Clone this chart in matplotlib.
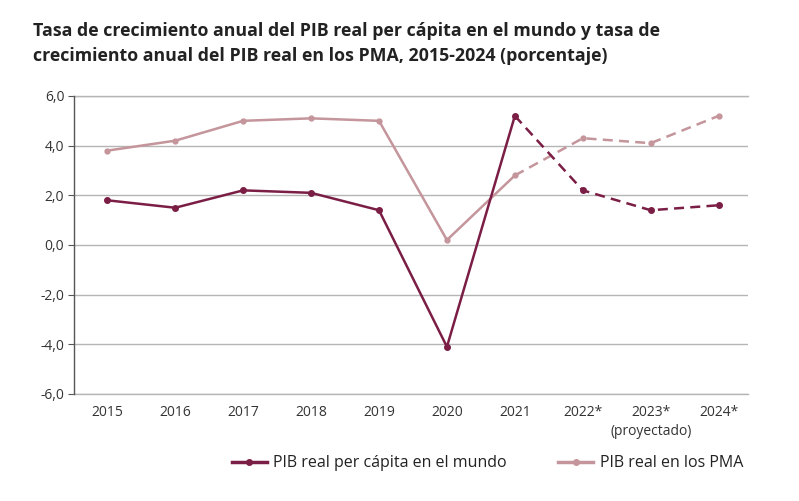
import matplotlib
matplotlib.use("Agg")
import matplotlib.pyplot as plt
from matplotlib.lines import Line2D

plt.rcParams['font.family'] = ['Open Sans', 'DejaVu Sans']

years = ["2015", "2016", "2017", "2018", "2019", "2020", "2021", "2022*", "2023*", "2024*"]
world = [1.8, 1.5, 2.2, 2.1, 1.4, -4.1, 5.2, 2.2, 1.4, 1.6]
pma = [3.8, 4.2, 5.0, 5.1, 5.0, 0.2, 2.8, 4.3, 4.1, 5.2]
yticks = [-6, -4, -2, 0, 2, 4, 6]

c_world = "#7b1e45"
c_pma = "#c4959b"
n_actual = 7  # 2015-2021 observed

fig = plt.figure(figsize=(7.99, 5.01), dpi=100)
ax = fig.add_axes([0.0926, 0.2136, 0.8434, 0.5948])

x = list(range(len(years)))
# PMA
ax.plot(x[:n_actual], pma[:n_actual], color=c_pma, lw=1.8, marker='o', ms=3.5, zorder=3)
ax.plot(x[n_actual-1:], pma[n_actual-1:], color=c_pma, lw=1.8, ls=(0, (4, 2.5)), marker='o', ms=3.5,
        markevery=list(range(1, len(years) - n_actual + 1)), zorder=3)
# World
ax.plot(x[:n_actual], world[:n_actual], color=c_world, lw=1.8, marker='o', ms=4, zorder=4)
ax.plot(x[n_actual-1:], world[n_actual-1:], color=c_world, lw=1.8, ls=(0, (4, 2.5)), marker='o', ms=4,
        markevery=list(range(1, len(years) - n_actual + 1)), zorder=4)

ax.set_xlim(-0.49, 9.43)
ax.set_ylim(-6, 6)
ax.set_yticks(yticks)
ax.set_yticklabels([f"{v:.1f}".replace(".", ",") for v in yticks])
ax.set_xticks(x)
ax.set_xticklabels(years)
ax.grid(axis='y', color='#b5b5b5', lw=1.0)
ax.axhline(-6, color='#b5b5b5', lw=1.0, clip_on=False, zorder=1)
ax.axhline(6, color='#b5b5b5', lw=1.0, clip_on=False, zorder=1)
ax.set_axisbelow(True)
for s in ['top', 'right', 'bottom']:
    ax.spines[s].set_visible(False)
ax.spines['left'].set_color('#555555')
ax.spines['left'].set_linewidth(1.0)
ax.tick_params(axis='y', length=4, color='#555555', labelsize=10, labelcolor='#333333', pad=3)
ax.tick_params(axis='x', length=0, labelsize=10, labelcolor='#333333', pad=8)

ax.text(8, -7.5, "(proyectado)", ha='center', va='center', fontsize=10, color='#333333')

fig.text(0.041, 0.913, "Tasa de crecimiento anual del PIB real per cápita en el mundo y tasa de\n"
         "crecimiento anual del PIB real en los PMA, 2015-2024 (porcentaje)",
         ha='left', va='center', fontsize=12.8, fontweight='bold', color='#222222', linespacing=1.5)

handles = [Line2D([0], [0], color=c_world, lw=2.5, marker='o', ms=4),
           Line2D([0], [0], color=c_pma, lw=2.5, marker='o', ms=4)]
fig.legend(handles, ["PIB real per cápita en el mundo", "PIB real en los PMA"],
           loc='center', bbox_to_anchor=(0.61, 0.075), ncol=2, frameon=False,
           fontsize=11.5, handlelength=2.2, handletextpad=0.4, columnspacing=3.2,
           labelcolor='#222222')

fig.savefig("out.png", dpi=100)
